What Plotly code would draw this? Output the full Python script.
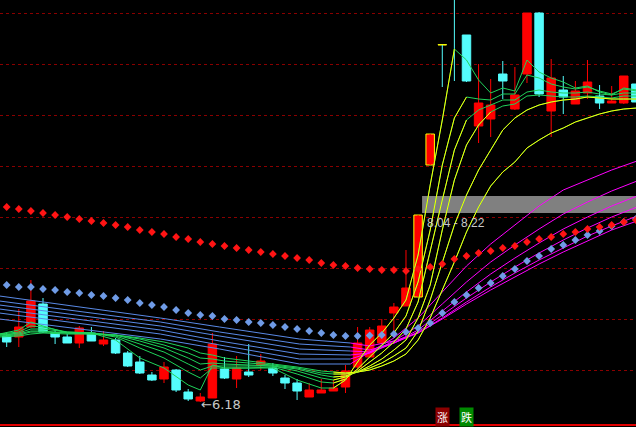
import plotly.graph_objects as go

# ---------------- data (prices) ----------------
bars = list(range(53))
opens = [6.84, 6.83, 6.93, 7.16, 6.87, 6.83, 6.77, 6.87, 6.76, 6.80, 6.67, 6.58, 6.45, 6.41, 6.50, 6.28,
         6.19, 6.22, 6.51, 6.41, 6.48, 6.55, 6.52, 6.42, 6.37, 6.23, 6.27, 6.29, 6.33, 6.53, 6.63, 6.77,
         7.07, 7.14, 7.23, 8.55, 9.75, 10.70, 9.85, 8.94, 9.01, 9.46, 9.11, 9.46, 10.07, 9.09, 9.30, 9.16,
         9.27, 9.24, 9.17, 9.17, 9.36]
closes = [6.78, 6.93, 7.19, 6.88, 6.83, 6.77, 6.92, 6.79, 6.80, 6.67, 6.54, 6.47, 6.40, 6.53, 6.30, 6.21,
          6.23, 6.76, 6.42, 6.52, 6.45, 6.59, 6.47, 6.37, 6.29, 6.30, 6.30, 6.32, 6.49, 6.77, 6.90, 6.94,
          7.13, 7.32, 8.05, 8.86, 9.75, 10.30, 9.39, 9.17, 9.15, 9.39, 9.25, 10.07, 9.26, 9.42, 9.23, 9.29,
          9.38, 9.17, 9.19, 9.44, 9.18]
highs = [6.87, 7.11, 7.40, 7.22, 6.90, 6.86, 6.94, 6.93, 6.89, 6.82, 6.69, 6.64, 6.48, 6.58, 6.51, 6.31,
         6.27, 6.87, 6.63, 6.64, 6.76, 6.66, 6.57, 6.45, 6.41, 6.37, 6.41, 6.40, 6.55, 6.93, 6.93, 7.01,
         7.17, 7.70, 8.05, 8.86, 9.75, 10.70, 9.85, 9.56, 9.41, 9.59, 9.53, 10.07, 10.08, 9.61, 9.44, 9.39,
         9.60, 9.35, 9.34, 9.44, 9.36]
lows = [6.73, 6.73, 6.92, 6.87, 6.76, 6.77, 6.72, 6.79, 6.74, 6.66, 6.53, 6.46, 6.39, 6.37, 6.28, 6.19,
        6.18, 6.22, 6.41, 6.32, 6.43, 6.50, 6.44, 6.31, 6.20, 6.23, 6.27, 6.29, 6.27, 6.50, 6.62, 6.77,
        6.83, 7.14, 7.23, 8.55, 9.33, 9.39, 9.38, 8.77, 8.83, 9.21, 9.10, 9.37, 9.23, 8.83, 9.06, 9.16,
        9.21, 9.11, 9.17, 9.16, 9.18]
limit_up_bars = [34, 35, 36]

red_dots = [8.13, 8.11, 8.09, 8.07, 8.05, 8.03, 8.01, 7.99, 7.97, 7.95, 7.93, 7.90, 7.88, 7.86, 7.83, 7.81,
            7.78, 7.76, 7.74, 7.72, 7.70, 7.68, 7.66, 7.64, 7.62, 7.60, 7.57, 7.55, 7.54, 7.52, 7.51, 7.50,
            7.50, 7.49, 7.51, 7.53, 7.56, 7.61, 7.64, 7.67, 7.69, 7.72, 7.74, 7.78, 7.81, 7.83, 7.86, 7.88,
            7.91, 7.93, 7.95, 7.98, 8.00]
blue_dots = [7.35, 7.33, 7.33, 7.31, 7.30, 7.28, 7.27, 7.25, 7.24, 7.22, 7.20, 7.17, 7.15, 7.13, 7.10, 7.07,
             7.05, 7.04, 7.01, 7.00, 6.98, 6.97, 6.95, 6.93, 6.91, 6.89, 6.87, 6.85, 6.84, 6.84, 6.845, 6.85,
             6.86, 6.88, 6.92, 6.97, 7.07, 7.18, 7.25, 7.32, 7.37, 7.44, 7.51, 7.59, 7.64, 7.71, 7.75, 7.80,
             7.85, 7.89, 7.94, 7.98, 8.01]

# long-term averages (blue while falling, magenta after the turn)
long_x = [-0.6, 12.7, 17.6, 24.2, 28.4, 30, 32, 34, 36, 38, 40, 42, 44, 46, 48, 50, 52.1]
long_turn = 28.4
long_1 = [7.01, 6.81, 6.71, 6.56, 6.56, 6.68, 6.82, 7.02, 7.28, 7.54, 7.76, 7.95, 8.14, 8.30, 8.40, 8.50, 8.59]
long_2 = [7.07, 6.86, 6.75, 6.61, 6.61, 6.67, 6.79, 6.94, 7.16, 7.38, 7.58, 7.75, 7.91, 8.06, 8.18, 8.29, 8.39]
long_3 = [7.11, 6.90, 6.79, 6.66, 6.65, 6.67, 6.77, 6.90, 7.09, 7.28, 7.46, 7.62, 7.77, 7.91, 8.03, 8.14, 8.24]
long_4 = [7.15, 6.94, 6.84, 6.71, 6.69, 6.68, 6.77, 6.88, 7.05, 7.22, 7.38, 7.53, 7.67, 7.80, 7.92, 8.03, 8.13]
long_5 = [7.19, 6.98, 6.88, 6.76, 6.73, 6.70, 6.77, 6.87, 7.02, 7.18, 7.33, 7.47, 7.60, 7.72, 7.84, 7.94, 8.04]
long_6 = [7.24, 7.02, 6.93, 6.81, 6.77, 6.74, 6.79, 6.87, 7.01, 7.16, 7.30, 7.43, 7.56, 7.68, 7.79, 7.90, 7.99]

# short-term averages (green, yellow while rising)
short_x = [-0.6, 1, 2, 3, 5, 7, 9, 11, 13, 15, 16, 17, 18, 20, 22, 24, 26, 27, 28, 29, 30, 31, 32, 33, 34,
           35, 36, 37, 38, 39, 40, 41, 42, 43, 44, 45, 46, 47, 48, 49, 50, 51, 52.1]
short_1 = [6.86, 6.90, 6.98, 6.94, 6.87, 6.87, 6.80, 6.62, 6.52, 6.35, 6.30, 6.55, 6.52, 6.52, 6.52, 6.40,
           6.32, 6.32, 6.40, 6.58, 6.75, 6.87, 7.02, 7.20, 7.65, 8.35, 9.00, 9.71, 9.60, 9.40, 9.27, 9.32,
           9.29, 9.60, 9.48, 9.42, 9.38, 9.32, 9.34, 9.28, 9.25, 9.32, 9.30]
short_2 = [6.86, 6.88, 6.94, 6.93, 6.88, 6.87, 6.83, 6.72, 6.62, 6.48, 6.42, 6.52, 6.52, 6.52, 6.53, 6.46,
           6.38, 6.37, 6.41, 6.51, 6.63, 6.74, 6.87, 7.04, 7.38, 7.90, 8.55, 9.02, 9.23, 9.21, 9.20, 9.26,
           9.26, 9.45, 9.42, 9.36, 9.33, 9.31, 9.33, 9.29, 9.26, 9.31, 9.29]
short_3 = [6.85, 6.87, 6.91, 6.91, 6.88, 6.87, 6.84, 6.76, 6.68, 6.56, 6.50, 6.54, 6.54, 6.54, 6.54, 6.49,
           6.42, 6.40, 6.43, 6.49, 6.58, 6.67, 6.78, 6.91, 7.18, 7.70, 8.20, 8.70, 9.00, 9.10, 9.15, 9.20,
           9.20, 9.28, 9.30, 9.28, 9.27, 9.27, 9.28, 9.26, 9.25, 9.27, 9.27]
short_4 = [6.85, 6.86, 6.89, 6.89, 6.87, 6.87, 6.85, 6.79, 6.72, 6.62, 6.56, 6.57, 6.56, 6.55, 6.54, 6.51,
           6.45, 6.43, 6.44, 6.48, 6.54, 6.61, 6.70, 6.80, 7.02, 7.35, 7.90, 8.40, 8.75, 8.95, 9.08, 9.14,
           9.16, 9.24, 9.25, 9.24, 9.23, 9.23, 9.24, 9.23, 9.22, 9.24, 9.24]
short_5 = [6.84, 6.85, 6.88, 6.88, 6.87, 6.86, 6.85, 6.81, 6.75, 6.67, 6.62, 6.61, 6.59, 6.57, 6.55, 6.52,
           6.47, 6.46, 6.46, 6.48, 6.52, 6.57, 6.64, 6.72, 6.89, 7.20, 7.58, 7.95, 8.25, 8.50, 8.70, 8.90,
           9.02, 9.10, 9.15, 9.18, 9.20, 9.21, 9.23, 9.22, 9.21, 9.21, 9.21]
short_6 = [6.83, 6.84, 6.86, 6.87, 6.86, 6.86, 6.85, 6.82, 6.78, 6.72, 6.67, 6.65, 6.62, 6.59, 6.56, 6.53,
           6.49, 6.48, 6.47, 6.48, 6.50, 6.54, 6.59, 6.66, 6.80, 7.02, 7.30, 7.58, 7.88, 8.13, 8.34, 8.48,
           8.58, 8.72, 8.80, 8.87, 8.92, 8.98, 9.02, 9.06, 9.09, 9.11, 9.12]
short_yellow = [(27, 37), (27, 38), (27, 38), (27, 40), (27, 52.1), (27, 52.1)]

grid_prices = [10.07, 9.56, 9.05, 8.54, 8.03, 7.52, 7.01, 6.50]
low_bar, low_price = 16, 6.18
band_start, band_lo, band_hi = 34.33, 8.07, 8.24
band_text, band_text_x, band_text_y = "8.04 - 8.22", 34.57, 7.975

RED, CYAN, YEL = "#ff0000", "#54fcfc", "#ffff00"
GREEN, BLUE, MAG = "#1fd35a", "#5a8ae6", "#ff00ff"

fig = go.Figure()

# wicks
def candle_color(i):
    if closes[i] > opens[i]:
        return RED
    return CYAN

for col in (RED, CYAN):
    xs, ys = [], []
    for i in bars:
        if candle_color(i) == col:
            xs += [i, i, None]
            ys += [lows[i], highs[i], None]
    fig.add_trace(go.Scatter(x=xs, y=ys, mode="lines", line=dict(color=col, width=1),
                             hoverinfo="skip", showlegend=False))

# bodies
base = [min(o, c) for o, c in zip(opens, closes)]
height = [max(abs(c - o), 0.004) for o, c in zip(opens, closes)]
fill = [candle_color(i) for i in bars]
edge = [YEL if i in limit_up_bars else candle_color(i) for i in bars]
fig.add_trace(go.Bar(x=bars, y=height, base=base, width=0.7,
                     marker=dict(color=fill, line=dict(color=edge, width=1)),
                     hoverinfo="skip", showlegend=False))

# long averages
for vals in (long_1, long_2, long_3, long_4, long_5, long_6):
    bx = [x for x in long_x if x <= long_turn]
    by = [v for x, v in zip(long_x, vals) if x <= long_turn]
    mx = [x for x in long_x if x >= long_turn]
    my = [v for x, v in zip(long_x, vals) if x >= long_turn]
    fig.add_trace(go.Scatter(x=bx, y=by, mode="lines", line=dict(color=BLUE, width=1),
                             hoverinfo="skip", showlegend=False))
    fig.add_trace(go.Scatter(x=mx, y=my, mode="lines", line=dict(color=MAG, width=1),
                             hoverinfo="skip", showlegend=False))

# short averages
for vals, (a, b) in zip((short_1, short_2, short_3, short_4, short_5, short_6), short_yellow):
    fig.add_trace(go.Scatter(x=short_x, y=vals, mode="lines", line=dict(color=GREEN, width=1),
                             hoverinfo="skip", showlegend=False))
    yx = [x for x in short_x if a <= x <= b]
    yy = [v for x, v in zip(short_x, vals) if a <= x <= b]
    fig.add_trace(go.Scatter(x=yx, y=yy, mode="lines", line=dict(color=YEL, width=1),
                             hoverinfo="skip", showlegend=False))

# dotted averages
fig.add_trace(go.Scatter(x=bars, y=blue_dots, mode="markers",
                         marker=dict(symbol="diamond", size=6, color="#6f9be6"),
                         hoverinfo="skip", showlegend=False))
fig.add_trace(go.Scatter(x=bars, y=red_dots, mode="markers",
                         marker=dict(symbol="diamond", size=6, color="#ff1414"),
                         hoverinfo="skip", showlegend=False))

fig.add_shape(type="rect", xref="x", yref="y", x0=band_start, x1=53, y0=band_lo, y1=band_hi,
              fillcolor="#808080", line=dict(width=0), layer="below")

fig.add_annotation(x=low_bar, y=low_price, text="\u2190" + f"{low_price:.2f}", showarrow=False,
                   xanchor="left", yanchor="middle", yshift=-2, xshift=-1,
                   font=dict(family="DejaVu Sans", size=13, color="#c8c8c8"))
fig.add_annotation(x=band_text_x, y=band_text_y, text=band_text, showarrow=False,
                   xanchor="left", yanchor="middle",
                   font=dict(family="Liberation Sans, DejaVu Sans", size=12, color="#c8c8c8"))
fig.add_annotation(x=36, y=6.035, text="涨", showarrow=False, bgcolor="#8c0000", borderpad=1,
                   font=dict(family="Noto Sans CJK SC", size=11, color="#ffffff"))
fig.add_annotation(x=38, y=6.035, text="跌", showarrow=False, bgcolor="#008a00", borderpad=1,
                   font=dict(family="Noto Sans CJK SC", size=11, color="#ffffff"))

fig.update_layout(
    width=636, height=427, margin=dict(l=0, r=0, t=0, b=3),
    paper_bgcolor="#000000", plot_bgcolor="#000000",
    showlegend=False, hovermode=False,
    xaxis=dict(range=[-0.554, 52.01], showgrid=False, zeroline=False, showticklabels=False,
               ticks="", showline=True, linecolor="#e00000", linewidth=2),
    yaxis=dict(range=[5.96, 10.2], tickvals=grid_prices, showticklabels=False, ticks="",
               showgrid=True, gridcolor="#8a0000", griddash="dot", gridwidth=1, zeroline=False),
)

fig.write_html("out.html", config={"displayModeBar": False, "staticPlot": True},
               post_script="document.body.style.margin='0px';document.body.style.background='#000';")
